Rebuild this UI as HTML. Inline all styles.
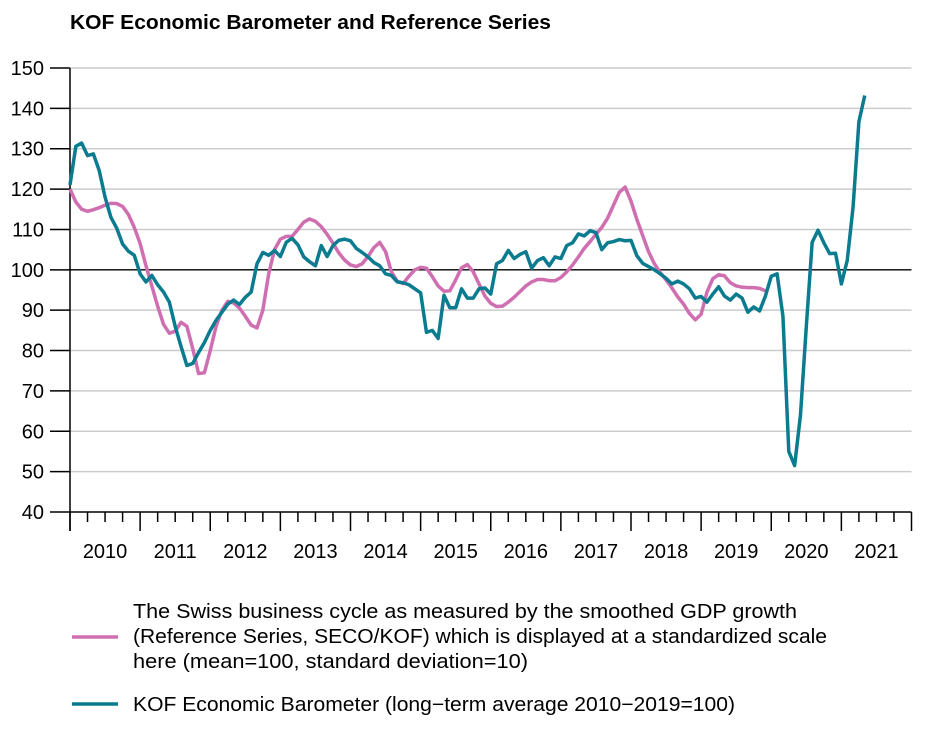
<!DOCTYPE html>
<html><head><meta charset="utf-8">
<style>
body{margin:0;background:#fff;}
svg{display:block;font-family:"Liberation Sans",Arial,sans-serif;}
</style></head>
<body>
<svg id="chart" width="930" height="729" viewBox="0 0 930 729">
<text x="70" y="29" font-size="20" font-weight="bold" fill="#000" textLength="481" lengthAdjust="spacingAndGlyphs">KOF Economic Barometer and Reference Series</text>
<g id="grid"></g>
<g id="axes"></g>
<g id="series"></g>
<g>
<g>
<line x1="72" y1="637" x2="118" y2="637" stroke="#cf6eb0" stroke-width="3.5"/>
<text x="133" y="618" font-size="20" fill="#000" textLength="664" lengthAdjust="spacingAndGlyphs">The Swiss business cycle as measured by the smoothed GDP growth</text>
<text x="133" y="643" font-size="20" fill="#000" textLength="694" lengthAdjust="spacingAndGlyphs">(Reference Series, SECO/KOF) which is displayed at a standardized scale</text>
<text x="133" y="668" font-size="20" fill="#000" textLength="395" lengthAdjust="spacingAndGlyphs">here (mean=100, standard deviation=10)</text>
</g>
<g>
<line x1="72" y1="704" x2="118" y2="704" stroke="#0b7b8f" stroke-width="3.5"/>
<text x="133" y="711" font-size="20" fill="#000" textLength="602" lengthAdjust="spacingAndGlyphs">KOF Economic Barometer (long−term average 2010−2019=100)</text>
</g>
</g>
</svg>
<script>
const years = [2010,2011,2012,2013,2014,2015,2016,2017,2018,2019,2020,2021];
const yTicks = [40,50,60,70,80,90,100,110,120,130,140,150];
const referenceSeries = [120,116.8,115,114.5,114.9,115.4,116,116.5,116.4,115.7,113.7,110.5,106.5,101,96,91,86.5,84.3,84.8,87,86,80.5,74.3,74.5,80,86,90,92.2,91.8,90.5,88.5,86.3,85.6,90,99,105,107.6,108.3,108.3,110,111.8,112.6,112,110.7,108.8,106.6,104.2,102.4,101.2,100.8,101.5,103.3,105.5,106.8,104.5,99.5,97.2,96.6,98.4,100,100.6,100.4,98.3,96,94.7,94.8,97.5,100.5,101.3,99.5,96.5,93.5,91.7,90.9,91,92,93.2,94.6,96,97,97.6,97.6,97.3,97.3,98.1,99.5,101.2,103.2,105.3,107,108.8,110.5,112.8,116,119.2,120.5,117,112.5,108.5,104.5,101.5,99.3,97.5,95.5,93.3,91.5,89.2,87.6,89,94.5,97.8,98.8,98.5,96.8,96,95.7,95.6,95.6,95.4,94.8];
const barometer = [121,130.6,131.4,128.3,128.7,124.6,118,113,110.3,106.4,104.6,103.6,99,97,98.6,96.3,94.5,92,86,81,76.3,76.8,79.5,82,85,87.5,89.5,91.5,92.5,91.4,93.2,94.5,101.5,104.3,103.6,104.8,103.3,106.8,107.8,106.2,103.2,102,101,106,103.3,106,107.3,107.6,107.2,105.3,104.3,103.2,101.8,101,99,98.6,97,96.8,96.3,95.3,94.3,84.5,85,83,93.7,90.6,90.6,95.3,93,93,95.3,95.5,94,101.5,102.3,104.8,102.8,103.8,104.5,100.4,102.3,103,101,103.2,102.8,106,106.7,108.9,108.4,109.7,109.2,105,106.7,107,107.5,107.2,107.3,103.5,101.6,100.8,100,99,97.9,96.5,97.2,96.5,95.3,93,93.4,92,94,95.8,93.5,92.5,94,93,89.5,90.8,89.8,93.5,98.4,99,88.5,55,51.5,64,86,106.8,109.8,106.7,104,104.1,96.5,102.3,115.5,136.7,143.2];

const NS = "http://www.w3.org/2000/svg";
const X0 = 70, X1 = 911.5, Y0 = 512, Y1 = 68;
const monthW = (X1 - X0) / 144;
function xScale(m){ return X0 + m * monthW; }
function yScale(v){ return Y0 - (v - 40) / 110 * (Y0 - Y1); }
function mk(tag, attrs, parent){
  const e = document.createElementNS(NS, tag);
  for (const k in attrs) e.setAttribute(k, attrs[k]);
  parent.appendChild(e); return e;
}
const grid = document.getElementById('grid');
const axes = document.getElementById('axes');
const series = document.getElementById('series');

yTicks.forEach(v => {
  const y = yScale(v);
  if (v !== 40) {
    const g = mk('line', {x1:X0, x2:X1, y1:y, y2:y, stroke: v===100 ? '#000' : '#cccccc', 'stroke-width': v===100 ? 1.3 : 1.5}, grid);
    
    
  }
  const t = mk('line', {x1:50, x2:X0, y1:y, y2:y, stroke:'#000', 'stroke-width':1.5}, axes);
  
  
  const lb = mk('text', {x:44, y:y+7, 'font-size':20, 'text-anchor':'end', fill:'#000'}, axes);
  lb.textContent = v;
  
  
});
const ya = mk('line', {x1:X0, x2:X0, y1:Y1, y2:531, stroke:'#000', 'stroke-width':1.5}, axes);


const xa = mk('line', {x1:X0, x2:X1, y1:Y0, y2:Y0, stroke:'#000', 'stroke-width':1.5}, axes);


for (let q = 0; q <= years.length * 4; q++) {
  const x = xScale(q * 3);
  const major = q % 4 === 0;
  const t = mk('line', {x1:x, x2:x, y1:Y0, y2: major ? 531 : 522, stroke:'#000', 'stroke-width':1.5}, axes);
  
  
}
years.forEach((yr, i) => {
  const lb = mk('text', {x: xScale(i*12 + 6), y: 558, 'font-size':20, 'text-anchor':'middle', fill:'#000'}, axes);
  lb.textContent = yr;
  
  
});
function path(arr, color, name){
  const d = arr.map((v,i) => (i ? 'L' : 'M') + xScale(i).toFixed(2) + ' ' + yScale(v).toFixed(2)).join(' ');
  const p = mk('path', {d, fill:'none', stroke:color, 'stroke-width':3.5, 'stroke-linejoin':'round'}, series);
  
  
}
path(referenceSeries, '#cf6eb0', 'reference-series-line');
path(barometer, '#0b7b8f', 'barometer-line');
</script>
</body></html>
